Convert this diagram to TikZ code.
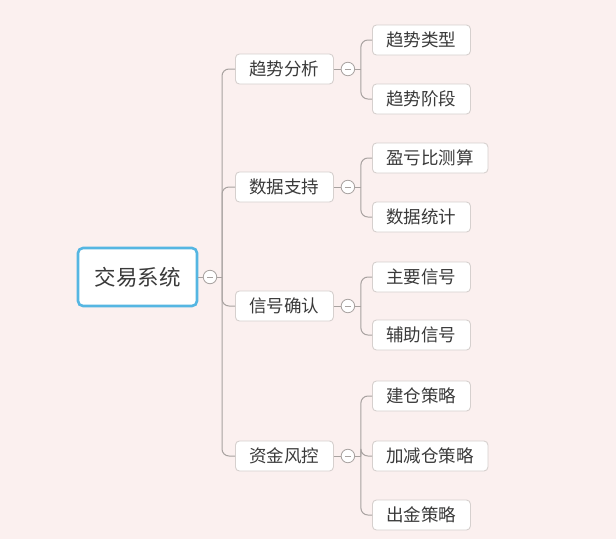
\documentclass[tikz,border=0pt]{standalone}
\usepackage{fontspec}
\setmainfont{Noto Sans CJK SC}
\definecolor{bgc}{HTML}{FBF0EF}
\definecolor{linec}{HTML}{A8A2A0}
\definecolor{boxc}{HTML}{D6D0CE}
\definecolor{txtc}{HTML}{3A3A3A}
\definecolor{rootc}{HTML}{55B6E2}
\tikzset{
  topic/.style={draw=boxc, line width=0.9pt, fill=white, rounded corners=4pt,
    minimum height=30pt, inner xsep=14pt, inner ysep=0pt, anchor=west,
    text=txtc, font=\fontsize{17.5}{17.5}\selectfont},
  roottopic/.style={draw=rootc, line width=2.6pt, fill=white, rounded corners=5pt,
    minimum height=58pt, minimum width=119pt, inner sep=0pt,
    text=txtc, font=\fontsize{21.5}{21.5}\selectfont},
  fold/.style={circle, draw=linec, line width=0.8pt, fill=white, minimum size=13.5pt, inner sep=0pt,
    path picture={\draw[linec, line width=0.7pt] ([xshift=-3pt]path picture bounding box.center) -- ([xshift=3pt]path picture bounding box.center);}},
  conn/.style={draw=linec, line width=1pt, rounded corners=7pt}
}
\begin{document}
\begin{tikzpicture}[x=1pt, y=-1pt]
\fill[bgc] (0,0) rectangle (616,539);
\useasboundingbox (0,0) rectangle (616,539);

\node[roottopic] (root) at (137.5,277) {交易系统};
\node[fold] (f0) at (210,277) {};
\coordinate (j0) at (222,277);

\node[topic] (a) at (235,69) {趋势分析};
\node[topic] (b) at (235,187) {数据支持};
\node[topic] (c) at (235,306) {信号确认};
\node[topic] (d) at (235,456) {资金风控};

\node[topic] (a1) at (372,40) {趋势类型};
\node[topic] (a2) at (372,99) {趋势阶段};
\node[topic] (b1) at (372,158) {盈亏比测算};
\node[topic] (b2) at (372,217) {数据统计};
\node[topic] (c1) at (372,277) {主要信号};
\node[topic] (c2) at (372,335) {辅助信号};
\node[topic] (d1) at (372,396) {建仓策略};
\node[topic] (d2) at (372,456) {加减仓策略};
\node[topic] (d3) at (372,515) {出金策略};

\foreach \p in {a,b,c,d}{
  \node[fold] (f\p) at ([xshift=14pt]\p.east) {};
  \coordinate (j\p) at ([xshift=13pt]f\p.center);
}

\draw[conn] (root.east) -- (f0.west);
\draw[conn] (f0.east) -- (j0);
\foreach \p in {a,b,c,d}{
  \draw[conn] (j0) |- (\p.west);
  \draw[conn] (\p.east) -- (f\p.west);
  \draw[conn] (f\p.east) -- (j\p);
}
\foreach \p/\q in {a/a1,a/a2,b/b1,b/b2,c/c1,c/c2,d/d1,d/d2,d/d3}{
  \draw[conn] (j\p) |- (\q.west);
}
\end{tikzpicture}
\end{document}
